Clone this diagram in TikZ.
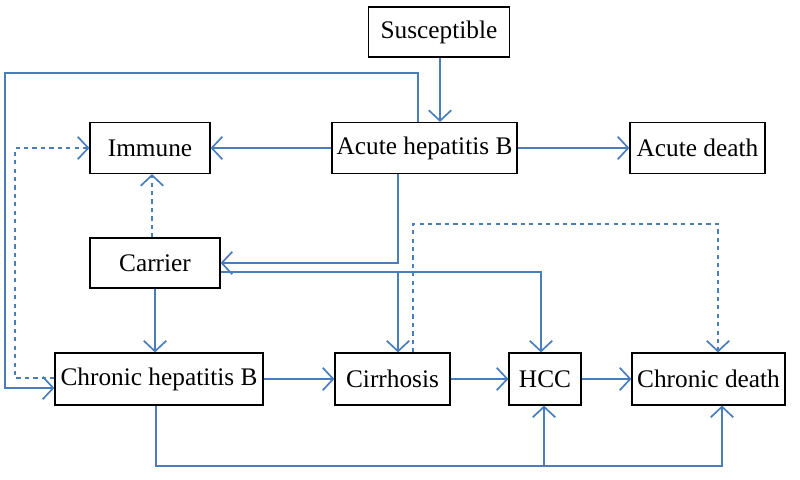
\documentclass[tikz,border=0pt]{standalone}
\usepackage{fontspec}
\setmainfont{Liberation Serif}
\usepackage{xcolor}
\usetikzlibrary{arrows.meta, positioning}
\definecolor{flowblue}{HTML}{4A7EBB}

\tikzset{
  state/.style={draw=black, line width=0.8pt, fill=white, inner sep=0pt,
    font=\fontsize{18}{18}\selectfont},
  flow/.style={flowblue, line width=1.2pt,
    -{Straight Barb[length=7.5pt, width=16pt, line width=1.2pt]}},
  dflow/.style={flow, dashed}
}

\begin{document}
\begin{tikzpicture}[x=0.025cm, y=-0.025cm]
  \useasboundingbox (0,0) rectangle (800,479);

  % Compartments
  \node[state, minimum width=3.525cm, minimum height=1.25cm] (sus) at (439,32) {Susceptible};
  \node[state, minimum width=4.625cm, minimum height=1.275cm] (acute) at (424.5,148) {Acute hepatitis B};
  \node[state, minimum width=3cm, minimum height=1.275cm] (immune) at (150,148) {Immune};
  \node[state, minimum width=3.375cm, minimum height=1.275cm] (adeath) at (697.5,148) {Acute death};
  \node[state, minimum width=3.25cm, minimum height=1.25cm] (carrier) at (155,263) {Carrier};
  \node[state, minimum width=5.2cm, minimum height=1.3cm] (chronic) at (159,379) {Chronic hepatitis B};
  \node[state, minimum width=2.875cm, minimum height=1.3cm] (cirr) at (392.5,379) {Cirrhosis};
  \node[state, minimum width=1.8cm, minimum height=1.3cm] (hcc) at (545,379) {HCC};
  \node[state, minimum width=3.825cm, minimum height=1.3cm] (cdeath) at (708.5,379) {Chronic death};

  % Acute phase
  \draw[flow] (sus.south -| 440,0) -- (acute.north -| 440,0);
  \draw[flow] (acute) -- (immune);
  \draw[flow] (acute) -- (adeath);
  \draw[flow] (acute.north -| 418,0) |- (5,73) |- (chronic.west |- 0,388);
  \draw[dflow] (chronic.west |- 0,378) -| (15,148) -- (immune.west);
  \draw[flow] (acute.south -| 398,0) |- (carrier.east);

  % Carrier
  \coordinate (split) at (398,272);
  \draw[dflow] (carrier.north -| 152,0) -- (immune.south -| 152,0);
  \draw[flow] (carrier.south) -- (carrier.south |- chronic.north);
  \draw[flow] (carrier.east |- split) -| (hcc.north -| 541,0);
  \draw[flow] (split) -- (cirr.north -| split);

  % Chronic phase
  \draw[flow] (chronic) -- (cirr);
  \draw[flow] (cirr) -- (hcc);
  \draw[flow] (hcc) -- (cdeath);
  \draw[dflow] (cirr.north -| 413,0) -- (413,224) -| (cdeath.north -| 718,0);
  \coordinate (joint) at (544,466);
  \draw[flow] (chronic.south -| 156,0) |- (joint) -| (cdeath.south -| 722,0);
  \draw[flow] (joint) -- (hcc.south -| joint);
\end{tikzpicture}
\end{document}
